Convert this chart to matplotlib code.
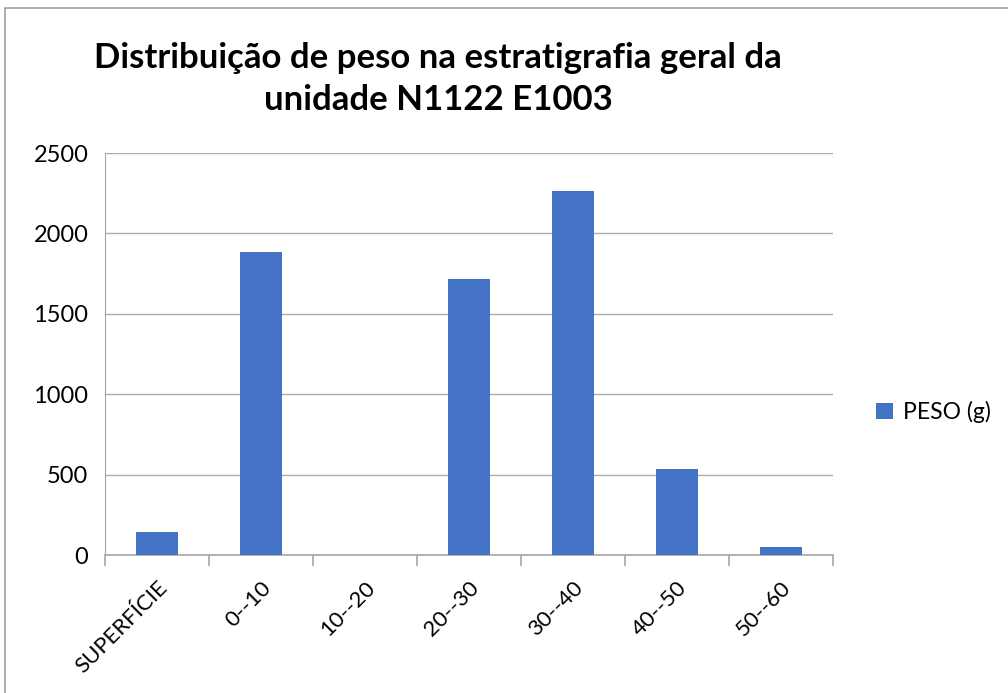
import matplotlib
matplotlib.use("Agg")
import matplotlib.pyplot as plt
from matplotlib.patches import Rectangle
import numpy as np

categories = ["SUPERFÍCIE", "0--10", "10--20", "20--30", "30--40", "40--50", "50--60"]
peso = [143, 1884, 0, 1716, 2262, 535, 50]
yticks = [0, 500, 1000, 1500, 2000, 2500]
title = "Distribuição de peso na estratigrafia geral da\nunidade N1122 E1003"
series_name = "PESO (g)"

plt.rcParams['font.family'] = ['Lato', 'DejaVu Sans']

fig = plt.figure(figsize=(10.08, 6.93), dpi=100)
fig.patches.append(Rectangle((5/1008, -0.2), 1.2, 1.2 - 8/693, transform=fig.transFigure,
                             fill=False, edgecolor='#A0A0A0', linewidth=1.2))
ax = fig.add_axes([105/1008, 1 - 555/693, (833 - 105)/1008, (555 - 153)/693])

x = np.arange(len(categories))
ax.bar(x, peso, width=0.4, color='#4472C4', label=series_name, zorder=3)
ax.set_xlim(-0.5, len(categories) - 0.5)
ax.set_ylim(0, 2500)
ax.set_yticks(yticks)
ax.set_yticklabels([str(v) for v in yticks], fontsize=17)
ax.tick_params(axis='y', length=0, pad=12)
ax.yaxis.grid(True, color='#ABABAB', linewidth=1)
ax.set_axisbelow(True)

ax.set_xticks(np.arange(-0.5, len(categories), 1), minor=False)
ax.set_xticklabels([])
ax.tick_params(axis='x', which='major', length=8, color='#A6A6A6', width=1.2)
ax.set_xticks(x, minor=True)
ax.set_xticklabels(categories, minor=True, rotation=45, ha='right',
                   rotation_mode='anchor', fontsize=16)
ax.tick_params(axis='x', which='minor', length=0, pad=16)

for s in ['top', 'right']:
    ax.spines[s].set_visible(False)
ax.spines['left'].set_color('#A6A6A6')
ax.spines['bottom'].set_color('#A6A6A6')
ax.spines['bottom'].set_linewidth(1.2)

fig.text(438/1008, 1 - 79/693, title, ha='center', va='center', fontsize=25,
         fontweight='bold', linespacing=1.35)

leg = ax.legend(loc='center left', bbox_to_anchor=(855/1008, 1 - 412/693),
                bbox_transform=fig.transFigure, frameon=False, fontsize=16.5,
                handlelength=0.75, handleheight=0.75, handletextpad=0.45)

fig.savefig("out.png", dpi=100)
